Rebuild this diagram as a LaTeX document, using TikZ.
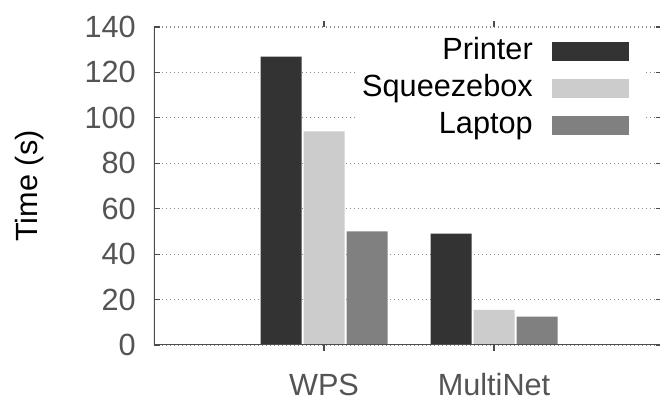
\documentclass[tikz,border=0pt]{standalone}
\usepackage{fontspec}
\setmainfont{Liberation Sans}
\usepackage{pgfplots}
\pgfplotsset{compat=1.18}
\pgfplotsset{every axis/.append style={
    scale only axis,
    axis line style={draw=none},
    tick style={black!70, line width=0.8pt},
    major tick length=4.5pt,
    tick align=inside,
    /pgf/number format/assume math mode=true
}}
\pgfplotsset{every axis plot/.append style={
    draw=none
}}
\tikzset{axisline/.style={draw=black!70, line width=1.1pt}}
\tikzset{gridline/.style={black!45, line width=0.8pt, dash pattern=on 0.8pt off 2.2pt}}
\tikzset{bigtext/.style={font=\fontsize{23}{23}\selectfont}}
\tikzset{legtext/.style={bigtext, anchor=base east, inner sep=0pt}}
\tikzset{legkey/.style={anchor=south west, inner sep=0pt, minimum width=57.75pt, minimum height=14.25pt}}
\colorlet{printer}{black!80}
\colorlet{squeeze}{black!20}
\colorlet{laptop}{black!50}
\colorlet{lbl}{black!67}

\begin{document}
\begin{tikzpicture}[x=0.75pt,y=0.75pt]
    \useasboundingbox (0,0) rectangle (660,398);
    \begin{axis}[at={(115.5pt,39.75pt)}, anchor=south west,
        width=381pt, height=238.5pt,
        xmin=0, xmax=2.988, ymin=0, ymax=140,
        xtick={1,2}, xticklabels={WPS,MultiNet},
        ytick={0,20,...,140},
        ymajorgrids, major grid style={gridline},
        ybar=1.5pt, bar width=30.75pt,
        ticklabel style={bigtext, text=lbl},
        xticklabel style={anchor=base, yshift=-33.75pt},
        yticklabel style={anchor=east, xshift=-10.2pt},
        ylabel={Time (s)},
        ylabel style={bigtext, at={(rel axis cs:-0.244,0.5)}, anchor=center}]
        \addplot[fill=printer] coordinates {(1,127) (2,49)};
        \addplot[fill=squeeze] coordinates {(1,94) (2,15.5)};
        \addplot[fill=laptop] coordinates {(1,50) (2,12.5)};
        \draw[axisline] (rel axis cs:0,1) -- (rel axis cs:0,0) -- (rel axis cs:1,0);
    \end{axis}
    % legend
    \fill[white] (357,258) rectangle (646,365);
    \node[legtext] (printertxt) at (533,338) {Printer};
    \node[legtext] (squeezetxt) at (533,301) {Squeezebox};
    \node[legtext] (laptoptxt) at (533,264) {Laptop};
    \node[legkey, fill=printer] (printerkey) at (552,337) {};
    \node[legkey, fill=squeeze] (squeezekey) at (552,300) {};
    \node[legkey, fill=laptop] (laptopkey) at (552,263) {};
\end{tikzpicture}
\end{document}
